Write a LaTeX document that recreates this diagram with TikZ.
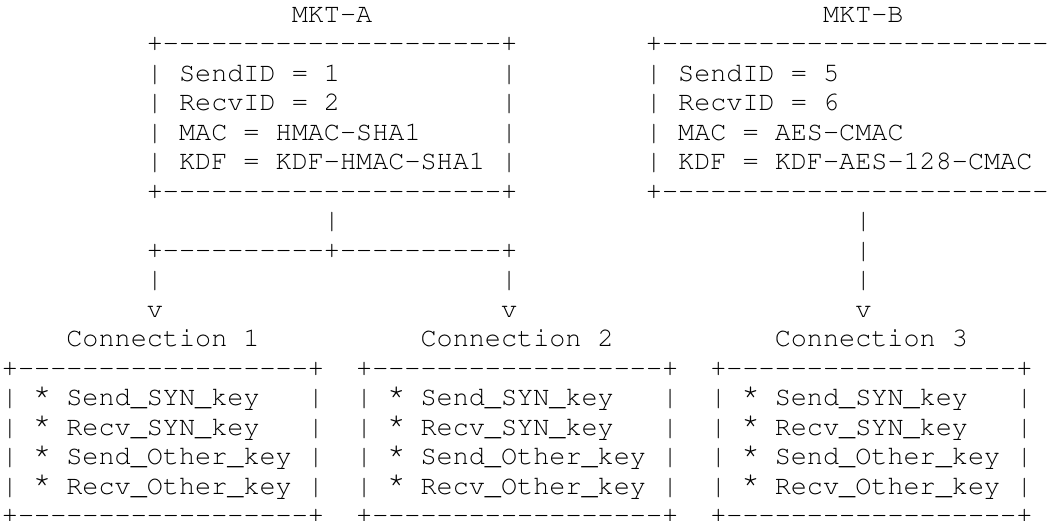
\documentclass[tikz,border=0pt]{standalone}
\usepackage[T1]{fontenc}
\newcommand{\asciifont}{\fontencoding{T1}\fontfamily{pcr}\fontseries{m}\fontshape{n}\fontsize{13.42pt}{14.75pt}\selectfont}
\newcommand{\dashrun}[1]{\foreach \i in {1,...,#1}{-{}}}
\newcommand{\keystar}{\makebox[0.6em][c]{\raisebox{0.22em}{\scalebox{1.15}{*}}}}

\begin{document}
\begin{tikzpicture}[x=8.05pt, y=-14.75pt,
        ascii/.style={anchor=base west, inner sep=0pt, outer sep=0pt, font=\asciifont}]
    \useasboundingbox (-0.975pt, 11pt) rectangle (524.025pt, -249pt);
    \fill[white] (-0.975pt, 11pt) rectangle (524.025pt, -249pt);
    \clip (-0.975pt, 11pt) rectangle (524.025pt, -249pt);

    % key tuples
    \node[ascii] (mktA) at (18, 0) {MKT-A};
    \node[ascii] (mktB) at (51, 0) {MKT-B};

    \node[ascii] (mktA-top) at (9, 1) {+\dashrun{21}+};
    \node[ascii] (mktA-send) at (9, 2) {| SendID = 1~~~~~~~~~~|};
    \node[ascii] (mktA-recv) at (9, 3) {| RecvID = 2~~~~~~~~~~|};
    \node[ascii] (mktA-mac) at (9, 4) {| MAC = HMAC-SHA1~~~~~|};
    \node[ascii] (mktA-kdf) at (9, 5) {| KDF = KDF-HMAC-SHA1 |};
    \node[ascii] (mktA-bot) at (9, 6) {+\dashrun{21}+};

    \node[ascii] (mktB-top) at (40, 1) {+\dashrun{24}+};
    \node[ascii] (mktB-send) at (40, 2) {| SendID = 5~~~~~~~~~~~~~|};
    \node[ascii] (mktB-recv) at (40, 3) {| RecvID = 6~~~~~~~~~~~~~|};
    \node[ascii] (mktB-mac) at (40, 4) {| MAC = AES-CMAC~~~~~~~~~|};
    \node[ascii] (mktB-kdf) at (40, 5) {| KDF = KDF-AES-128-CMAC |};
    \node[ascii] (mktB-bot) at (40, 6) {+\dashrun{24}+};

    % links down to the connections
    \node[ascii] (linkA) at (20, 7) {|};
    \node[ascii] (fork) at (9, 8) {+\dashrun{10}+\dashrun{10}+};
    \node[ascii] (forkL) at (9, 9) {|};
    \node[ascii] (forkR) at (31, 9) {|};
    \node[ascii] (tipL) at (9, 10) {v};
    \node[ascii] (tipR) at (31, 10) {v};
    \foreach \r in {7, 8, 9}
        \node[ascii] (linkB\r) at (53, \r) {|};
    \node[ascii] (tipB) at (53, 10) {v};

    % connection key sets
    \foreach \c/\n in {0/1, 22/2, 44/3} {
        \node[ascii] (conn\n) at (\c+4, 11) {Connection \n};
        \node[ascii] (conn\n-top) at (\c, 12) {+\dashrun{18}+};
        \node[ascii] (conn\n-ssyn) at (\c, 13) {| \keystar{} Send\_SYN\_key~~~|};
        \node[ascii] (conn\n-rsyn) at (\c, 14) {| \keystar{} Recv\_SYN\_key~~~|};
        \node[ascii] (conn\n-soth) at (\c, 15) {| \keystar{} Send\_Other\_key |};
        \node[ascii] (conn\n-roth) at (\c, 16) {| \keystar{} Recv\_Other\_key |};
        \node[ascii] (conn\n-bot) at (\c, 17) {+\dashrun{18}+};
    }
\end{tikzpicture}
\end{document}
